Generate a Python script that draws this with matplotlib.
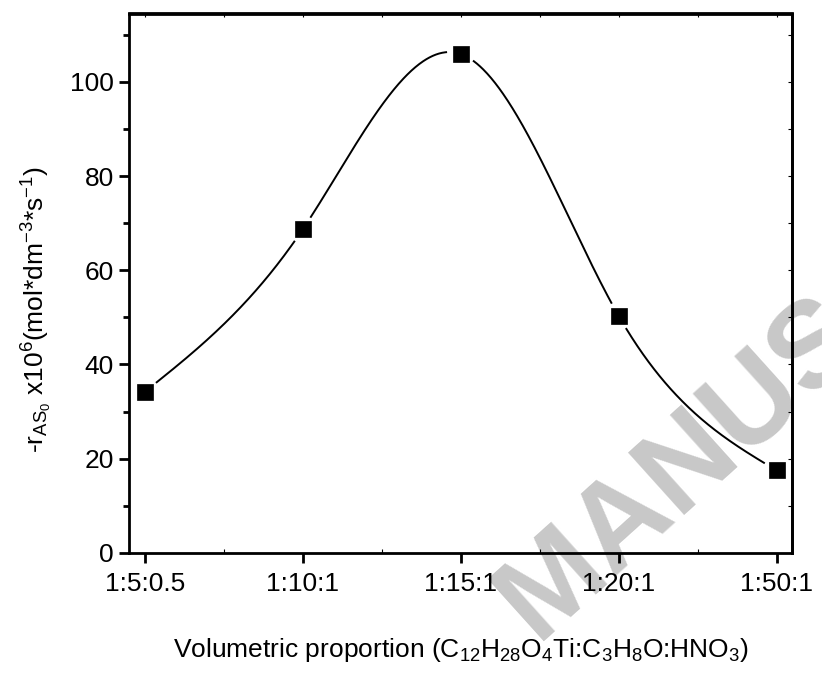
import numpy as np
import matplotlib
matplotlib.use('Agg')
import matplotlib.pyplot as plt
from matplotlib.ticker import MultipleLocator

# data
proportions = ['1:5:0.5', '1:10:1', '1:15:1', '1:20:1', '1:50:1']
rate = [34.2, 68.7, 105.9, 50.3, 17.5]

plt.rcParams['font.family'] = ['Liberation Sans', 'DejaVu Sans']
plt.rcParams['mathtext.fontset'] = 'custom'
plt.rcParams['mathtext.rm'] = 'Liberation Sans'
plt.rcParams['mathtext.it'] = 'Liberation Sans:italic'


def natural_spline(x, y, xs):
    # natural cubic spline through the points (like Origin's spline connect)
    x = np.asarray(x, float)
    y = np.asarray(y, float)
    n = len(x)
    h = np.diff(x)
    A = np.zeros((n, n))
    b = np.zeros(n)
    A[0, 0] = 1
    A[-1, -1] = 1
    for i in range(1, n - 1):
        A[i, i - 1] = h[i - 1]
        A[i, i] = 2 * (h[i - 1] + h[i])
        A[i, i + 1] = h[i]
        b[i] = 6 * ((y[i + 1] - y[i]) / h[i] - (y[i] - y[i - 1]) / h[i - 1])
    M = np.linalg.solve(A, b)
    idx = np.clip(np.searchsorted(x, xs) - 1, 0, n - 2)
    x0, x1 = x[idx], x[idx + 1]
    hh = x1 - x0
    return (M[idx] * (x1 - xs) ** 3 / (6 * hh) + M[idx + 1] * (xs - x0) ** 3 / (6 * hh)
            + (y[idx] / hh - M[idx] * hh / 6) * (x1 - xs)
            + (y[idx + 1] / hh - M[idx + 1] * hh / 6) * (xs - x0))


fig = plt.figure(figsize=(8.22, 6.75), dpi=100)
ax = fig.add_axes([0.157, 0.181, 0.807, 0.799])
ax.patch.set_visible(False)

xpos = np.arange(len(proportions))
ax.set_xlim(-0.1, 4.1)
ax.set_ylim(0, 114.5)

# smooth curve with small gaps around the markers
xs = np.linspace(xpos[0], xpos[-1], 800)
ys = natural_spline(xpos, rate, xs)
disp = ax.transData.transform(np.column_stack([xs, ys]))
pts = ax.transData.transform(np.column_stack([xpos, rate]))
for p in pts:
    d = np.hypot(disp[:, 0] - p[0], disp[:, 1] - p[1])
    ys[d < 14.5] = np.nan
ax.plot(xs, ys, color='black', lw=1.4, zorder=2)
ax.plot(xpos, rate, ls='none', marker='s', ms=11, mfc='black', mec='black', mew=0.5, zorder=3)

ax.set_xticks(xpos)
ax.set_xticklabels(proportions)
ax.set_xticks([0.5, 1.5, 2.5, 3.5], minor=True)
ax.yaxis.set_major_locator(MultipleLocator(20))
ax.yaxis.set_minor_locator(MultipleLocator(10))

for s in ax.spines.values():
    s.set_linewidth(2.0)
ax.tick_params(axis='x', which='major', direction='out', length=7.5, width=2, pad=6, labelsize=19)
ax.tick_params(axis='x', which='minor', direction='in', length=3, width=0.8)
ax.tick_params(axis='y', which='major', direction='out', length=7, width=2, pad=4, labelsize=19)
ax.tick_params(axis='y', which='minor', direction='out', length=4, width=2)

# thin inward ticks on top and right
top = ax.secondary_xaxis('top')
top.set_xticks(xpos)
top.set_xticks([0.5, 1.5, 2.5, 3.5], minor=True)
top.tick_params(which='both', direction='in', length=3, width=0.8, labeltop=False)
top.spines['top'].set_linewidth(2.0)
right = ax.secondary_yaxis('right')
right.yaxis.set_major_locator(MultipleLocator(20))
right.yaxis.set_minor_locator(MultipleLocator(10))
right.tick_params(which='both', direction='in', length=3, width=0.8, labelright=False)
right.spines['right'].set_linewidth(2.0)

ax.set_xlabel('Volumetric proportion (C$_{12}$H$_{28}$O$_4$Ti:C$_3$H$_8$O:HNO$_3$)',
              fontsize=19, va='center')
ax.xaxis.set_label_coords(0.5, -0.18)
ax.set_ylabel('-r$_{\\mathregular{AS_0}}$ x10$^6$(mol*dm$^{-3}$*s$^{-1}$)',
              fontsize=19, va='center', ha='center')
ax.yaxis.set_label_coords(-0.139, 0.452)

# journal watermark, partly cut off by the page edge
fig.text(0.652, 0.05, 'MANUSCRIPT', rotation=42, rotation_mode='anchor',
         ha='left', va='baseline', fontsize=88, fontweight='bold',
         color='#c8c8c8', zorder=-1)

fig.savefig('out.png', dpi=100)
